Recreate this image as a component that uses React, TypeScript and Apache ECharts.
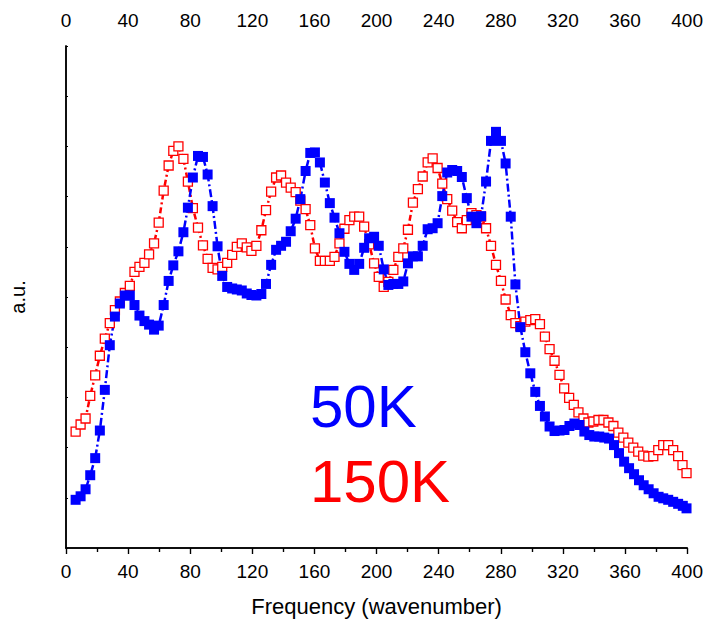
import React, { useEffect, useRef } from "react";
import * as echarts from "echarts";

const xTicks = [0, 40, 80, 120, 160, 200, 240, 280, 320, 360, 400];

const blueX = [6.2, 9.4, 12.6, 15.6, 18.8, 21.8, 25.0, 28.2, 31.5, 34.7, 37.9, 41.1, 44.1, 47.3, 50.5, 53.5, 56.7, 59.7, 62.9, 66.1, 69.1, 72.4, 75.6, 78.5, 81.7, 85.0, 88.2, 91.2, 94.4, 97.6, 100.6, 103.8, 107.0, 110.0, 113.2, 116.4, 119.4, 122.6, 125.8, 128.8, 132.1, 135.3, 138.5, 141.7, 144.7, 147.9, 150.9, 154.3, 157.3, 160.3, 163.5, 166.7, 169.9, 172.9, 176.1, 179.3, 182.5, 185.6, 188.8, 192.0, 195.2, 198.4, 201.4, 204.6, 207.6, 210.8, 214.0, 217.2, 220.2, 223.4, 226.6, 229.7, 232.9, 236.1, 239.3, 242.3, 245.5, 248.7, 251.9, 254.9, 258.1, 261.1, 264.3, 267.3, 270.5, 273.7, 276.9, 280.1, 283.1, 286.4, 289.4, 292.6, 295.8, 299.0, 302.2, 305.2, 308.4, 311.4, 314.6, 317.8, 321.0, 324.2, 327.4, 330.6, 333.8, 337.0, 340.2, 343.4, 346.6, 349.7, 352.9, 356.1, 359.4, 362.6, 365.8, 369.0, 372.0, 375.2, 378.4, 381.6, 384.6, 387.8, 391.0, 394.2, 397.2, 399.6];
const blueY = [0.96, 1.03, 1.17, 1.45, 1.79, 2.34, 3.15, 4.04, 4.61, 4.87, 5.03, 5.03, 4.84, 4.63, 4.52, 4.45, 4.35, 4.43, 4.84, 5.32, 5.63, 5.91, 6.29, 6.78, 7.38, 7.81, 7.79, 7.44, 6.81, 6.01, 5.42, 5.2, 5.17, 5.15, 5.13, 5.07, 5.04, 5.03, 5.06, 5.26, 5.64, 5.94, 6.02, 6.1, 6.31, 6.56, 6.95, 7.51, 7.87, 7.88, 7.68, 7.28, 6.87, 6.58, 6.27, 5.9, 5.66, 5.54, 5.66, 5.98, 6.17, 6.2, 6.02, 5.55, 5.24, 5.26, 5.26, 5.31, 5.67, 5.81, 5.81, 6.02, 6.35, 6.37, 6.47, 7.01, 7.48, 7.53, 7.51, 7.39, 6.97, 6.6, 6.47, 6.61, 7.3, 8.11, 8.29, 8.11, 7.66, 6.6, 5.25, 4.4, 3.9, 3.48, 3.11, 2.83, 2.62, 2.42, 2.33, 2.34, 2.35, 2.43, 2.48, 2.45, 2.32, 2.25, 2.22, 2.22, 2.2, 2.18, 2.05, 1.89, 1.72, 1.59, 1.47, 1.35, 1.25, 1.17, 1.09, 1.02, 0.99, 0.96, 0.92, 0.88, 0.84, 0.79];

const redX = [6.2, 9.4, 12.6, 15.6, 18.8, 21.8, 25.0, 28.2, 31.5, 34.7, 37.9, 41.1, 44.1, 47.3, 50.5, 53.5, 56.7, 59.7, 62.9, 66.1, 69.1, 72.4, 75.6, 78.5, 81.7, 85.0, 88.2, 91.2, 94.4, 97.6, 100.6, 103.8, 107.0, 110.0, 113.2, 116.4, 119.4, 122.6, 125.8, 128.8, 132.1, 135.3, 138.5, 141.7, 144.7, 147.9, 150.9, 154.3, 157.3, 160.3, 163.5, 166.7, 169.9, 172.9, 176.1, 179.3, 182.5, 185.6, 188.8, 192.0, 195.2, 198.4, 201.4, 204.6, 207.6, 210.8, 214.0, 217.2, 220.2, 223.4, 226.6, 229.7, 232.9, 236.1, 239.3, 242.3, 245.5, 248.7, 251.9, 254.9, 258.1, 261.1, 264.3, 267.3, 270.5, 273.7, 276.9, 280.1, 283.1, 286.4, 289.4, 292.6, 295.8, 299.0, 302.2, 305.2, 308.4, 311.4, 314.6, 317.8, 320.8, 324.0, 327.0, 330.0, 333.2, 336.4, 339.6, 342.9, 346.1, 349.3, 352.5, 355.7, 358.9, 362.1, 365.3, 368.5, 371.7, 375.0, 378.2, 381.4, 384.6, 387.8, 391.0, 394.2, 397.0, 399.6];
const redY = [2.32, 2.46, 2.58, 3.03, 3.44, 3.83, 4.17, 4.48, 4.74, 4.91, 5.08, 5.22, 5.5, 5.6, 5.68, 5.85, 6.07, 6.48, 7.12, 7.62, 7.91, 8.0, 7.75, 7.3, 6.77, 6.38, 6.03, 5.76, 5.58, 5.55, 5.6, 5.68, 5.84, 6.0, 6.07, 5.99, 5.92, 6.02, 6.33, 6.73, 7.1, 7.38, 7.42, 7.28, 7.18, 7.09, 6.92, 6.75, 6.43, 5.97, 5.72, 5.72, 5.72, 5.8, 6.07, 6.36, 6.53, 6.6, 6.6, 6.4, 6.05, 5.67, 5.4, 5.2, 5.3, 5.54, 5.8, 5.97, 6.34, 6.88, 7.15, 7.4, 7.68, 7.76, 7.57, 7.26, 6.95, 6.72, 6.49, 6.37, 6.53, 6.67, 6.63, 6.6, 6.37, 6.02, 5.64, 5.32, 4.95, 4.64, 4.48, 4.42, 4.51, 4.54, 4.56, 4.46, 4.21, 3.96, 3.73, 3.45, 3.18, 2.99, 2.85, 2.7, 2.58, 2.5, 2.52, 2.55, 2.55, 2.5, 2.43, 2.3, 2.2, 2.1, 2.0, 1.92, 1.84, 1.82, 1.83, 1.95, 2.05, 2.05, 1.95, 1.83, 1.65, 1.49];

const labelBlue = "50K";
const labelRed = "150K";

const SANS = "'Liberation Sans', Arial, sans-serif";

export default function App() {
  const ref = useRef<HTMLDivElement>(null);
  useEffect(() => {
    document.body.style.margin = "0";
    if (!ref.current) return;
    const chart = echarts.init(ref.current, undefined, { renderer: "svg" });
    const axisLine = { show: true, lineStyle: { color: "#000", width: 1.5 } };
    const xCommon = {
      type: "value" as const,
      min: xTicks[0],
      max: xTicks[xTicks.length - 1],
      interval: xTicks[1] - xTicks[0],
      splitLine: { show: false },
      axisLine,
      minorTick: { show: true, splitNumber: 2, length: 4, lineStyle: { color: "#000", width: 1.2 } },
      minorSplitLine: { show: false },
    };
    chart.setOption({
      animation: false,
      backgroundColor: "#fff",
      grid: { left: 66, right: 17, top: 46, bottom: 76, containLabel: false },
      xAxis: [
        {
          ...xCommon,
          position: "bottom",
          axisTick: { show: true, inside: false, length: 6, lineStyle: { color: "#000", width: 1.2 } },
          axisLabel: { color: "#000", fontSize: 19, fontFamily: SANS, margin: 14 },
          name: "Frequency (wavenumber)",
          nameLocation: "middle",
          nameGap: 47,
          nameTextStyle: { color: "#000", fontSize: 22, fontFamily: SANS },
        },
        {
          ...xCommon,
          position: "top",
          axisTick: { show: true, inside: true, length: 6, lineStyle: { color: "#000", width: 1.2 } },
          axisLabel: { color: "#000", fontSize: 19, fontFamily: SANS, margin: 16 },
        },
      ],
      yAxis: [
        {
          type: "value",
          min: 0,
          max: 10,
          interval: 1,
          position: "left",
          splitLine: { show: false },
          axisLine,
          axisTick: { show: true, inside: true, length: 2, lineStyle: { color: "#000", width: 1 } },
          axisLabel: { show: false },
          name: "a.u.",
          nameLocation: "middle",
          nameGap: 38,
          nameTextStyle: { color: "#000", fontSize: 20, fontFamily: SANS },
        },
        {
          type: "value",
          min: 0,
          max: 10,
          interval: 1,
          position: "right",
          splitLine: { show: false },
          axisLine,
          axisTick: { show: true, inside: false, length: 2, lineStyle: { color: "#000", width: 1 } },
          axisLabel: { show: false },
        },
      ],
      series: [
        {
          type: "line",
          name: labelRed,
          xAxisIndex: 0,
          yAxisIndex: 0,
          data: redX.map((x, i) => [x, redY[i]]),
          symbol: "rect",
          symbolSize: 9,
          showSymbol: true,
          silent: true,
          itemStyle: { color: "#ffffff", borderColor: "#ff0000", borderWidth: 1.3 },
          lineStyle: { color: "#ff0000", width: 2.5, type: [6, 3, 2, 3] },
        },
        {
          type: "line",
          name: labelBlue,
          xAxisIndex: 0,
          yAxisIndex: 0,
          data: blueX.map((x, i) => [x, blueY[i]]),
          symbol: "rect",
          symbolSize: 10,
          showSymbol: true,
          silent: true,
          itemStyle: { color: "#0000ff" },
          lineStyle: { color: "#0000ff", width: 2.5, type: [8, 3, 2, 3] },
        },
      ],
      graphic: [
        {
          type: "text",
          left: 310,
          top: 376,
          style: { text: labelBlue, fill: "#0000ff", fontSize: 60, fontFamily: SANS },
        },
        {
          type: "text",
          left: 310,
          top: 451,
          style: { text: labelRed, fill: "#ff0000", fontSize: 60, fontFamily: SANS },
        },
      ],
    });
    return () => chart.dispose();
  }, []);
  return <div ref={ref} style={{ width: 706, height: 624 }} />;
}
